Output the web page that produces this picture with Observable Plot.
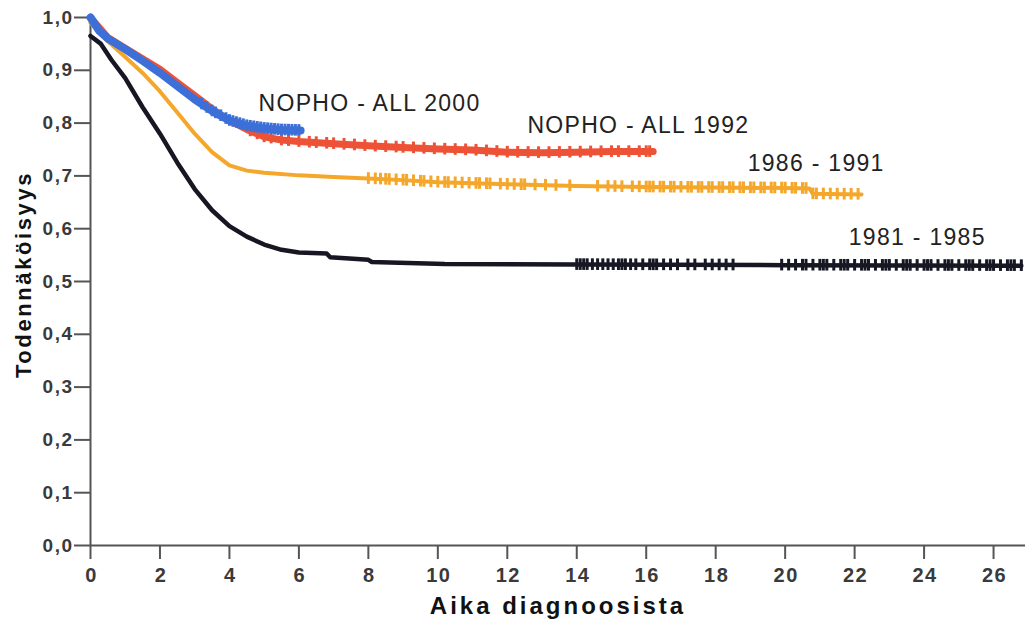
<!DOCTYPE html>
<html>
<head>
<meta charset="utf-8">
<script src="https://cdn.jsdelivr.net/npm/d3@7"></script>
<script src="https://cdn.jsdelivr.net/npm/@observablehq/plot@0.6"></script>
<style>
  html, body { margin: 0; padding: 0; background: #fff; }
  #chart svg { display: block; }
</style>
</head>
<body>
<div id="chart"></div>
<script>
// --- Data (years since diagnosis vs. probability) ---
const seriesNames = ["1981 - 1985", "1986 - 1991", "NOPHO - ALL 1992", "NOPHO - ALL 2000"];
const seriesColors = ["#171724", "#f4a72a", "#ee5236", "#3c6fd8"];
const seriesWidths = [4.5, 4, 7, 8];

const t8185 = [0, 0.3, 0.6, 1, 1.5, 2, 2.5, 3, 3.5, 4, 4.5, 5, 5.5, 6, 6.8, 6.9, 8, 8.1, 10.2, 14, 20, 26.8];
const v8185 = [0.965, 0.95, 0.92, 0.885, 0.83, 0.78, 0.725, 0.675, 0.635, 0.605, 0.585, 0.57, 0.56, 0.555, 0.553, 0.546, 0.541, 0.537, 0.533, 0.532, 0.531, 0.53];
const c8185 = [14.0, 14.1, 14.2, 14.3, 14.45, 14.6, 14.75, 14.9, 15.05, 15.2, 15.3, 15.4, 15.55, 15.7, 15.9, 16.1, 16.2, 16.3, 16.5, 16.7, 16.9, 17.2, 17.4, 17.7, 17.9, 18.1, 18.3, 18.5, 19.9, 20.1, 20.3, 20.5, 20.6, 20.8, 21.0, 21.1, 21.2, 21.4, 21.6, 21.7, 21.8, 22.0, 22.2, 22.3, 22.4, 22.6, 22.8, 22.9, 23.0, 23.2, 23.4, 23.5, 23.6, 23.8, 24.0, 24.1, 24.2, 24.4, 24.6, 24.7, 24.8, 25.0, 25.2, 25.3, 25.4, 25.6, 25.8, 25.9, 26.0, 26.2, 26.4, 26.5, 26.6, 26.8];

const t8691 = [0, 0.5, 1, 1.5, 2, 2.5, 3, 3.5, 4, 4.5, 5, 6, 7, 8, 9, 10, 11, 12, 14, 16, 18, 20, 20.7, 20.8, 22.2];
const v8691 = [0.99, 0.955, 0.925, 0.895, 0.86, 0.82, 0.78, 0.745, 0.72, 0.71, 0.706, 0.701, 0.698, 0.695, 0.692, 0.688, 0.686, 0.684, 0.681, 0.679, 0.678, 0.677, 0.676, 0.666, 0.665];
const c8691 = [8.0, 8.2, 8.35, 8.5, 8.6, 8.8, 9.0, 9.1, 9.3, 9.5, 9.6, 9.8, 10.0, 10.2, 10.3, 10.5, 10.7, 10.9, 11.1, 11.2, 11.4, 11.5, 11.8, 12.0, 12.2, 12.4, 12.5, 12.8, 13.1, 13.4, 13.8, 14.6, 14.9, 15.1, 15.3, 15.6, 15.8, 16.0, 16.1, 16.2, 16.4, 16.5, 16.7, 16.8, 17.0, 17.2, 17.3, 17.5, 17.6, 17.8, 17.9, 18.1, 18.2, 18.4, 18.5, 18.7, 18.8, 19.0, 19.1, 19.3, 19.4, 19.6, 19.7, 19.9, 20.0, 20.2, 20.3, 20.5, 20.6, 20.8, 20.9, 21.1, 21.3, 21.5, 21.7, 21.9, 22.1];

const t1992 = [0, 0.5, 1, 1.5, 2, 2.5, 3, 3.5, 4, 4.5, 5, 5.5, 6, 7, 8, 9, 10, 11, 12, 13, 14, 15, 16.2];
const v1992 = [1.0, 0.962, 0.942, 0.922, 0.902, 0.877, 0.852, 0.827, 0.805, 0.788, 0.774, 0.768, 0.765, 0.761, 0.757, 0.754, 0.751, 0.749, 0.745, 0.744, 0.745, 0.746, 0.746];
const c1992 = [4.6, 4.8, 5.0, 5.2, 5.5, 5.7, 6.0, 6.3, 6.5, 6.8, 7.0, 7.3, 7.6, 7.9, 8.2, 8.5, 8.8, 9.0, 9.3, 9.6, 9.9, 10.2, 10.5, 10.8, 11.1, 11.4, 11.7, 12.0, 12.3, 12.6, 12.9, 13.2, 13.5, 13.8, 14.1, 14.4, 14.7, 15.0, 15.2, 15.5, 15.8, 16.0, 16.1];

const t2000 = [0, 0.25, 0.5, 1, 1.5, 2, 2.5, 3, 3.5, 4, 4.5, 5, 5.5, 6.05];
const v2000 = [1.0, 0.975, 0.96, 0.94, 0.918, 0.895, 0.87, 0.845, 0.823, 0.805, 0.795, 0.79, 0.787, 0.786];
const c2000 = [3.2, 3.35, 3.5, 3.6, 3.75, 3.9, 4.0, 4.1, 4.2, 4.3, 4.4, 4.5, 4.6, 4.7, 4.8, 4.9, 5.0, 5.1, 5.2, 5.3, 5.4, 5.5, 5.6, 5.7, 5.8, 5.9, 6.0];

const labelX = [21.83, 18.92, 12.58, 4.84];
const labelY = [0.583, 0.723, 0.795, 0.837];

const xTicks = [0, 2, 4, 6, 8, 10, 12, 14, 16, 18, 20, 22, 24, 26];
const yTicks = [0, 0.1, 0.2, 0.3, 0.4, 0.5, 0.6, 0.7, 0.8, 0.9, 1.0];
const xTitle = "Aika diagnoosista";
const yTitle = "Todennäköisyys";

// --- Build tables ---
const times = [t8185, t8691, t1992, t2000];
const vals = [v8185, v8691, v1992, v2000];
const cens = [c8185, c8691, c1992, c2000];

const curves = [];
const ticks = [];
seriesNames.forEach((name, i) => {
  times[i].forEach((t, j) => curves.push({series: name, t, v: vals[i][j]}));
  const lookup = d3.scaleLinear().domain(times[i]).range(vals[i]).clamp(true);
  cens[i].forEach(t => ticks.push({series: name, t, v: lookup(t)}));
});
const labels = seriesNames.map((name, i) => ({series: name, x: labelX[i], y: labelY[i]}));

const font = "'Liberation Sans', Arial, sans-serif";

const chart = Plot.plot({
  width: 1030,
  height: 629,
  marginLeft: 90,
  marginRight: 5,
  marginTop: 17,
  marginBottom: 84,
  style: {fontFamily: font, background: "#fff"},
  x: {domain: [0, 26.92]},
  y: {domain: [0, 1]},
  color: {domain: seriesNames, range: seriesColors},
  marks: [
    Plot.axisX({
      ticks: xTicks, tickSize: 14, tickPadding: 8, stroke: "#555", strokeWidth: 2,
      fontSize: 20, fontWeight: "bold", fill: "#3a3a3a", label: null,
      tickFormat: d => String(d)
    }),
    Plot.axisY({
      ticks: yTicks, tickSize: 16, tickPadding: 1, stroke: "#555", strokeWidth: 2,
      fontSize: 19, fontWeight: "bold", fill: "#3a3a3a", label: null,
      tickFormat: d => d.toFixed(1).replace(".", ",")
    }),
    Plot.ruleX([0], {stroke: "#555", strokeWidth: 2}),
    Plot.ruleY([0], {stroke: "#555", strokeWidth: 2}),
    ...seriesNames.map((name, i) => [
      Plot.line(curves.filter(d => d.series === name), {
        x: "t", y: "v", stroke: seriesColors[i], strokeWidth: seriesWidths[i],
        strokeLinejoin: "round", strokeLinecap: "round"
      }),
      Plot.ruleX(ticks.filter(d => d.series === name), {
        x: "t", y1: d => d.v - 0.011, y2: d => d.v + 0.011,
        stroke: seriesColors[i], strokeWidth: 3
      })
    ]).flat(),
    Plot.text(labels, {
      x: "x", y: "y", text: "series", textAnchor: "start",
      fontSize: 23, fill: "#222", fontWeight: "normal"
    }),
    Plot.text([xTitle], {
      frameAnchor: "bottom", textAnchor: "middle", dy: 68, fontSize: 24, fontWeight: "bold", fill: "#111"
    }),
    Plot.text([yTitle], {
      frameAnchor: "left", textAnchor: "middle", dx: -67, dy: -7, rotate: -90,
      fontSize: 22, fontWeight: "bold", fill: "#111"
    })
  ]
});
document.getElementById("chart").appendChild(chart);

// font sizes and letter spacing to mimic the wide lettering of the original
const svg = d3.select(chart);
svg.selectAll('g[aria-label="y-axis tick label"]').attr("font-size", 19).attr("font-weight", "bold");
svg.selectAll('g[aria-label="y-axis tick label"] text').style("letter-spacing", "1.5px").style("font-size", "19px");
svg.selectAll('g[aria-label="x-axis tick label"]').attr("font-size", 20).attr("font-weight", "bold");
svg.selectAll('g[aria-label="x-axis tick label"] text').style("letter-spacing", "1.5px").style("font-size", "20px").attr("dx", "1");
svg.selectAll("text").each(function () {
  const s = this.textContent;
  if (s === xTitle) d3.select(this).style("letter-spacing", "3px");
  else if (s === yTitle) d3.select(this).style("letter-spacing", "2.6px");
  else if (seriesNames.includes(s)) d3.select(this).style("letter-spacing", "1.3px");
});
</script>
</body>
</html>
